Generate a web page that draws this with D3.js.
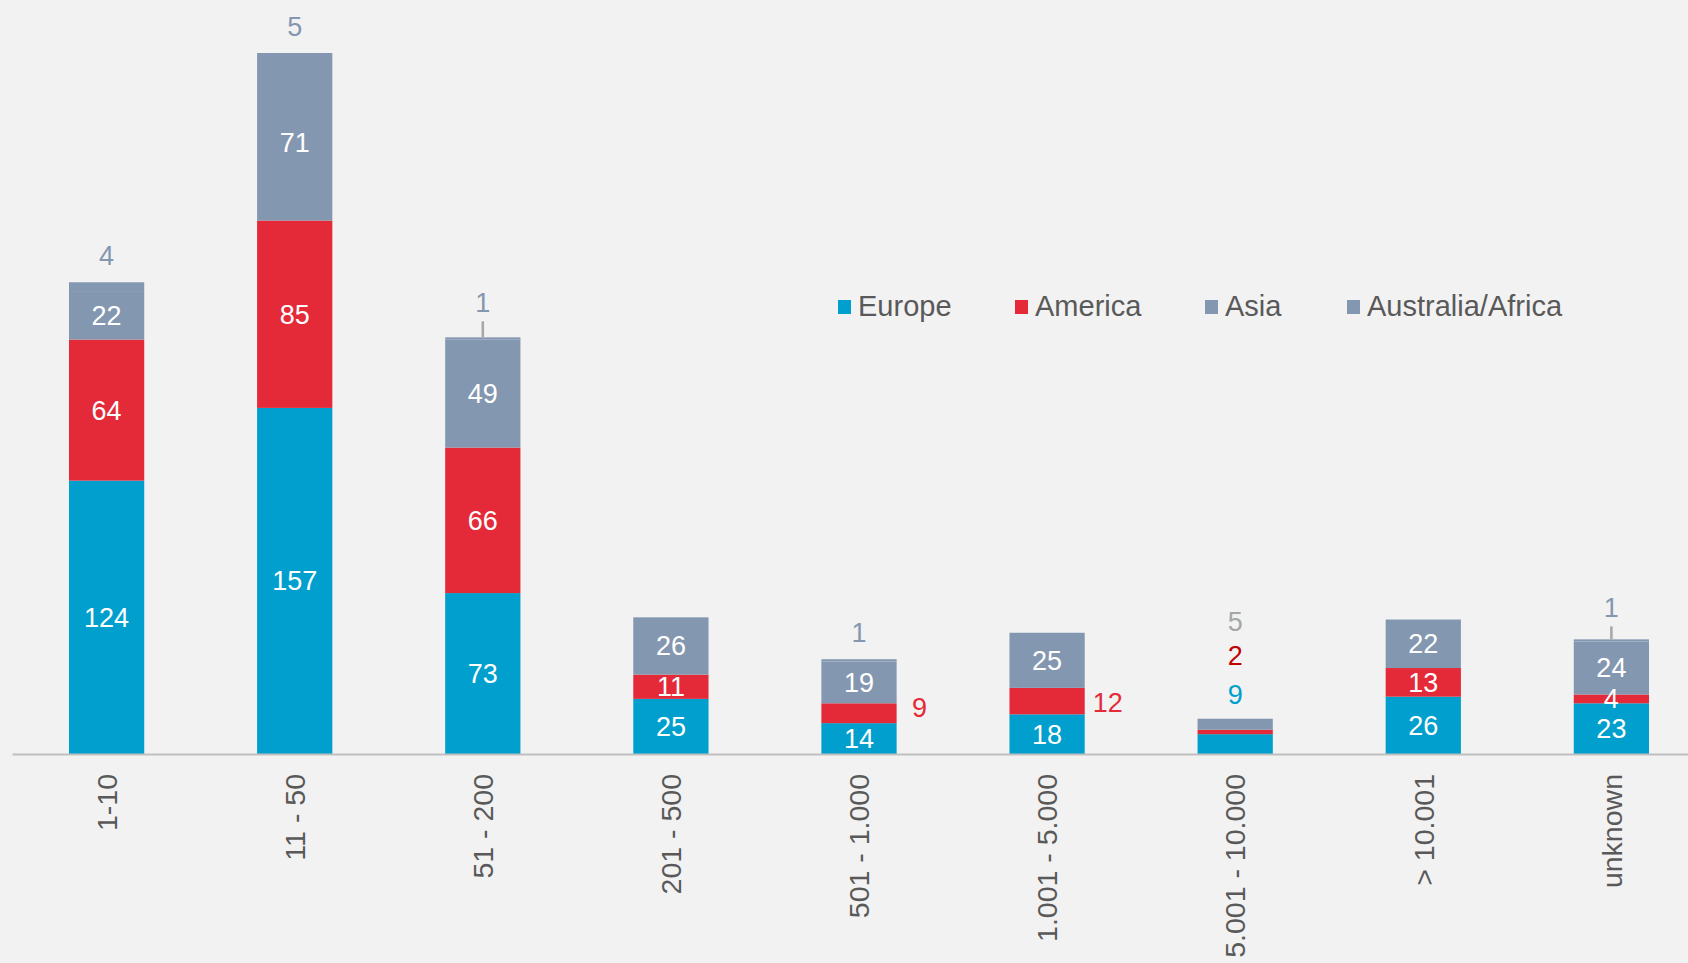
<!DOCTYPE html>
<html>
<head>
<meta charset="utf-8">
<script src="https://cdn.jsdelivr.net/npm/d3@7"></script>
<style>
  html, body { margin: 0; padding: 0; background: #f2f2f2; }
  svg { display: block; font-family: "Liberation Sans", Arial, sans-serif; }
</style>
</head>
<body>
<svg id="chart" width="1688" height="963"></svg>
<script>
// Company size classes and headcount per region
const categories = ["1-10", "11 - 50", "51 - 200", "201 - 500", "501 - 1.000",
                    "1.001 - 5.000", "5.001 - 10.000", "> 10.001", "unknown"];
const seriesNames = ["Europe", "America", "Asia", "Australia/Africa"];
const europe   = [124, 157, 73, 25, 14, 18, 9, 26, 23];
const america  = [64, 85, 66, 11, 9, 12, 2, 13, 4];
const asia     = [22, 71, 49, 26, 19, 25, 5, 22, 24];
const ausAfrica = [4, 5, 1, 0, 1, 0, 0, 0, 1];

const colors = {
  "Europe": "#009fcd",
  "America": "#e42a39",
  "Asia": "#8497b0",
  "Australia/Africa": "#8497b0"
};

// Labels that sit outside the bar instead of inside their segment
const outsideRight = { "America": { "501 - 1.000": -6, "1.001 - 5.000": 1 } };
const stackedAbove = "5.001 - 10.000";   // tiny bar: labels stacked above it
// Australia/Africa labels that need a leader line to the bar top
const leaderLift = { "51 - 200": 25, "unknown": 22 };

const W = 1688, H = 963;
const baseY = 754;

const rows = categories.map((c, i) => ({
  category: c,
  "Europe": europe[i],
  "America": america[i],
  "Asia": asia[i],
  "Australia/Africa": ausAfrica[i]
}));

const stacked = d3.stack().keys(seriesNames)(rows);
const totals = rows.map(r => seriesNames.reduce((s, k) => s + r[k], 0));

const x = d3.scaleBand()
  .domain(categories)
  .range([12, 1706])
  .paddingInner(0.6)
  .paddingOuter(0.303);

const y = d3.scaleLinear()
  .domain([0, d3.max(totals)])
  .range([baseY, 53]);

const svg = d3.select("#chart");
svg.append("rect").attr("width", W).attr("height", H).attr("fill", "#f2f2f2");

// Stacked bars
const layers = svg.append("g").selectAll("g")
  .data(stacked)
  .join("g")
  .attr("fill", d => colors[d.key]);

layers.selectAll("rect")
  .data(d => d.map(p => ({ key: d.key, p })))
  .join("rect")
  .attr("x", d => x(d.p.data.category))
  .attr("width", x.bandwidth())
  .attr("y", d => y(d.p[1]))
  .attr("height", d => y(d.p[0]) - y(d.p[1]));

// Category axis
const axis = svg.append("g")
  .attr("transform", `translate(0,${baseY})`)
  .call(d3.axisBottom(x).tickSize(0).tickPadding(0));
axis.select(".domain").attr("stroke", "#bfbfbf").attr("stroke-width", 2);
axis.selectAll(".tick text")
  .attr("fill", "#595959")
  .attr("font-size", 28.5)
  .attr("font-family", "'Liberation Sans', Arial, sans-serif")
  .attr("text-anchor", "end")
  .attr("transform", "rotate(-90)")
  .attr("x", -20)
  .attr("y", 0)
  .attr("dy", "0.36em");

// Value labels
const labels = svg.append("g").attr("font-size", 27);

stacked.forEach(layer => {
  layer.forEach(p => {
    const cat = p.data.category;
    const v = p.data[layer.key];
    const cx = x(cat) + x.bandwidth() / 2;
    if (cat === stackedAbove) return;
    if (layer.key === "Australia/Africa") {
      if (v === 0) return;
      const top = y(p[1]);
      const lift = leaderLift[cat] || 17;
      if (leaderLift[cat]) {
        labels.append("line")
          .attr("x1", cx).attr("x2", cx)
          .attr("y1", top - lift + 9).attr("y2", top)
          .attr("stroke", "#a6a6a6").attr("stroke-width", 2.5);
      }
      labels.append("text")
        .attr("x", cx).attr("y", top - lift)
        .attr("text-anchor", "middle")
        .attr("fill", "#8497b0")
        .text(v);
      return;
    }
    const midY = (y(p[0]) + y(p[1])) / 2;
    const side = outsideRight[layer.key];
    if (side && cat in side) {
      labels.append("text")
        .attr("x", x(cat) + x.bandwidth() + 23).attr("y", midY + side[cat])
        .attr("dy", "0.35em")
        .attr("text-anchor", "middle")
        .attr("fill", colors[layer.key])
        .text(v);
      return;
    }
    labels.append("text")
      .attr("x", cx).attr("y", midY)
      .attr("dy", "0.35em")
      .attr("text-anchor", "middle")
      .attr("fill", "#ffffff")
      .text(v);
  });
});

// Small bar: its values are listed above the stack
{
  const i = categories.indexOf(stackedAbove);
  const cx = x(stackedAbove) + x.bandwidth() / 2;
  const top = y(totals[i]);
  const list = [
    { v: europe[i], c: "#00a0cd", off: 15 },
    { v: america[i], c: "#c00000", off: 54 },
    { v: asia[i], c: "#a6a6a6", off: 88 }
  ];
  list.forEach(d => {
    labels.append("text")
      .attr("x", cx).attr("y", top - d.off)
      .attr("text-anchor", "middle")
      .attr("fill", d.c)
      .text(d.v);
  });
}

// Legend
const legendX = [838, 1015, 1205, 1347];
const legend = svg.append("g").attr("font-size", 29).attr("fill", "#595959");
seriesNames.forEach((name, i) => {
  const g = legend.append("g").attr("transform", `translate(${legendX[i]},298)`);
  g.append("rect").attr("width", 13).attr("height", 14).attr("y", 2).attr("fill", colors[name]);
  g.append("text").attr("x", 20).attr("y", 18).text(name);
});
</script>
</body>
</html>
